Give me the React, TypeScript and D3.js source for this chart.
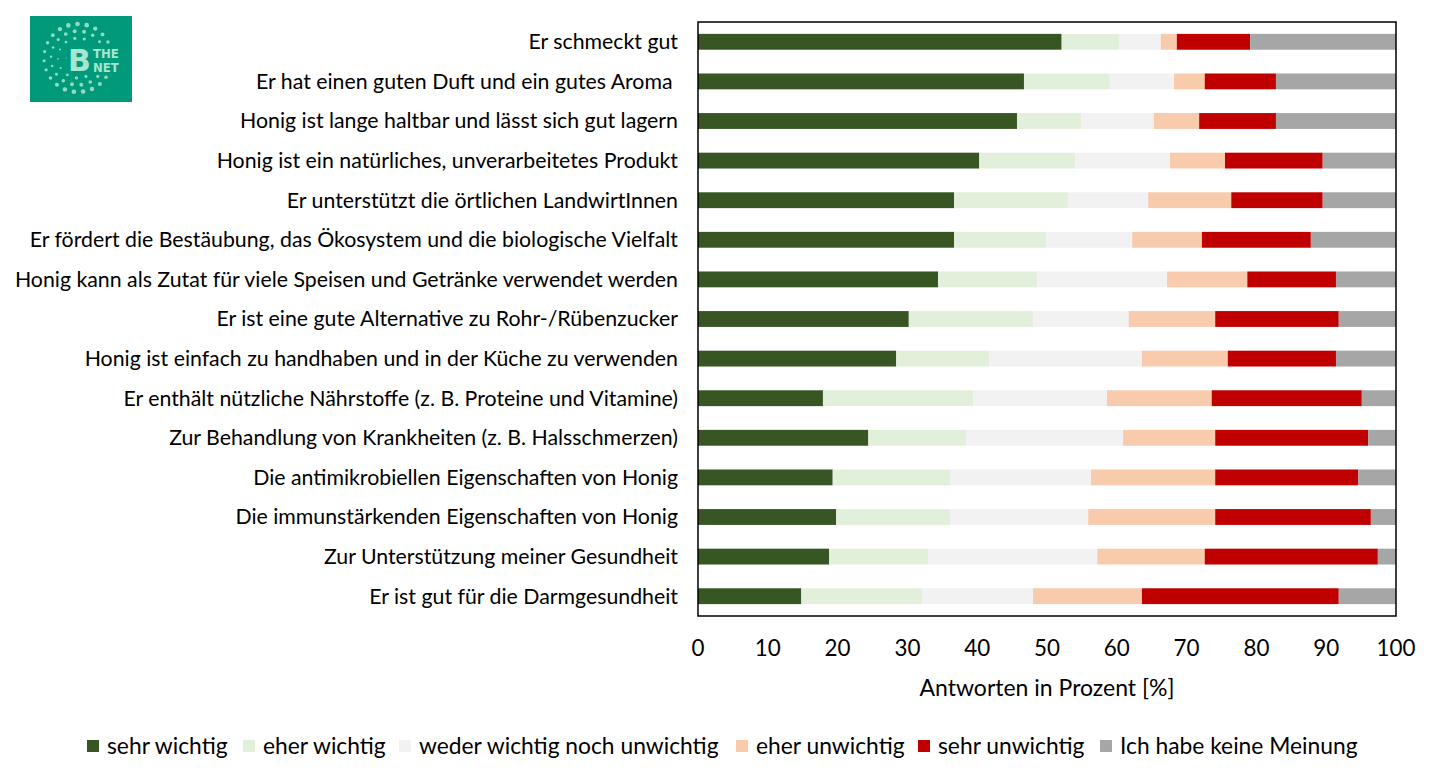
import React, { useEffect, useRef } from 'react';
import * as d3 from 'd3';

const categories = [
  'Er schmeckt gut',
  'Er hat einen guten Duft und ein gutes Aroma ',
  'Honig ist lange haltbar und lässt sich gut lagern',
  'Honig ist ein natürliches, unverarbeitetes Produkt',
  'Er unterstützt die örtlichen LandwirtInnen',
  'Er fördert die Bestäubung, das Ökosystem und die biologische Vielfalt',
  'Honig kann als Zutat für viele Speisen und Getränke verwendet werden',
  'Er ist eine gute Alternative zu Rohr-/Rübenzucker',
  'Honig ist einfach zu handhaben und in der Küche zu verwenden',
  'Er enthält nützliche Nährstoffe (z. B. Proteine und Vitamine)',
  'Zur Behandlung von Krankheiten (z. B. Halsschmerzen)',
  'Die antimikrobiellen Eigenschaften von Honig',
  'Die immunstärkenden Eigenschaften von Honig',
  'Zur Unterstützung meiner Gesundheit',
  'Er ist gut für die Darmgesundheit',
];

const seriesNames = [
  'sehr wichtig',
  'eher wichtig',
  'weder wichtig noch unwichtig',
  'eher unwichtig',
  'sehr unwichtig',
  'Ich habe keine Meinung',
];

const sehrWichtig = [52.1, 46.7, 45.7, 40.3, 36.7, 36.7, 34.4, 30.2, 28.4, 17.9, 24.4, 19.3, 19.8, 18.8, 14.8];
const eherWichtig = [8.2, 12.3, 9.2, 13.7, 16.3, 13.2, 14.2, 17.8, 13.3, 21.5, 14.0, 16.8, 16.3, 14.2, 17.3];
const weder = [6.0, 9.2, 10.4, 13.6, 11.5, 12.3, 18.6, 13.7, 21.9, 19.2, 22.5, 20.2, 19.8, 24.2, 15.9];
const eherUnwichtig = [2.3, 4.4, 6.5, 7.9, 11.9, 10.0, 11.5, 12.4, 12.3, 15.0, 13.2, 17.8, 18.2, 15.4, 15.6];
const sehrUnwichtig = [10.5, 10.2, 11.0, 14.0, 13.1, 15.6, 12.7, 17.7, 15.5, 21.5, 21.9, 20.5, 22.3, 24.8, 28.2];
const keineMeinung = [20.9, 17.2, 17.2, 10.5, 10.5, 12.2, 8.6, 8.2, 8.6, 4.9, 4.0, 5.4, 3.6, 2.6, 8.2];

const xTicks = [0, 10, 20, 30, 40, 50, 60, 70, 80, 90, 100];

const colors = ['#375623', '#e2efda', '#f2f2f2', '#f8cbad', '#c00000', '#a6a6a6'];

const FONT = 'Lato, "Open Sans", sans-serif';

export default function App() {
  const ref = useRef<SVGSVGElement>(null);

  useEffect(() => {
    const svg = d3.select(ref.current);
    svg.selectAll('*').remove();

    const left = 698, right = 1396, top = 22, bottom = 616;

    const table = categories.map((c, i) => ({
      cat: c,
      s0: sehrWichtig[i],
      s1: eherWichtig[i],
      s2: weder[i],
      s3: eherUnwichtig[i],
      s4: sehrUnwichtig[i],
      s5: keineMeinung[i],
    }));
    const keys = ['s0', 's1', 's2', 's3', 's4', 's5'];
    const stacked = d3.stack<any>().keys(keys)(table);

    const x = d3.scaleLinear().domain([0, 100]).range([left, right]);
    const y = d3
      .scaleBand()
      .domain(categories)
      .range([top, bottom])
      .paddingInner(0.6)
      .paddingOuter(0.3);

    // bars
    svg
      .append('g')
      .selectAll('g')
      .data(stacked)
      .enter()
      .append('g')
      .attr('fill', (_d, i) => colors[i])
      .selectAll('rect')
      .data((d) => d)
      .enter()
      .append('rect')
      .attr('x', (d) => x(d[0]))
      .attr('y', (d) => y(d.data.cat)!)
      .attr('width', (d) => x(d[1]) - x(d[0]))
      .attr('height', y.bandwidth());

    // frame
    svg
      .append('rect')
      .attr('x', left)
      .attr('y', top)
      .attr('width', right - left)
      .attr('height', bottom - top)
      .attr('fill', 'none')
      .attr('stroke', '#000')
      .attr('stroke-width', 1.5);

    // category labels
    svg
      .append('g')
      .selectAll('text')
      .data(categories)
      .enter()
      .append('text')
      .attr('x', left - 20)
      .attr('y', (d) => y(d)! + y.bandwidth() / 2)
      .attr('dy', '0.35em')
      .attr('text-anchor', 'end')
      .style('font-family', FONT)
      .style('font-size', '21.3px')
      .style('white-space', 'pre')
      .attr('fill', '#000')
      .text((d) => d);

    // x tick labels
    svg
      .append('g')
      .selectAll('text')
      .data(xTicks)
      .enter()
      .append('text')
      .attr('x', (d) => x(d))
      .attr('y', 648)
      .attr('dy', '0.35em')
      .attr('text-anchor', 'middle')
      .style('font-family', FONT)
      .style('font-size', '22.4px')
      .text((d) => String(d));

    svg
      .append('text')
      .attr('x', (left + right) / 2)
      .attr('y', 688)
      .attr('dy', '0.35em')
      .attr('text-anchor', 'middle')
      .style('font-family', FONT)
      .style('font-size', '23px')
      .text('Antworten in Prozent [%]');

    // legend
    const legendX = [87, 243, 399, 736, 918, 1100];
    const lg = svg.append('g');
    seriesNames.forEach((name, i) => {
      lg.append('rect')
        .attr('x', legendX[i])
        .attr('y', 740)
        .attr('width', 12)
        .attr('height', 12)
        .attr('fill', colors[i]);
      lg.append('text')
        .attr('x', legendX[i] + 20)
        .attr('y', 746)
        .attr('dy', '0.35em')
        .style('font-family', FONT)
        .style('font-size', '22.8px')
        .text(name);
    });

    // logo
    const logo = svg.append('g').attr('transform', 'translate(30,16)');
    logo.append('rect').attr('width', 102).attr('height', 86).attr('fill', '#009a7a');
    const cx = 48, cy = 42;
    const dots: { x: number; y: number; r: number }[] = [];
    [12, 20, 27, 34].forEach((rad, ri) => {
      const n = 8 + ri * 5;
      for (let k = 0; k < n; k++) {
        const a = (k / n) * Math.PI * 2 + ri * 0.2;
        const px = cx + Math.cos(a) * rad;
        const py = cy + Math.sin(a) * rad;
        if (px > 36 && Math.abs(py - cy) < 15) continue;
        const size = 0.5 + ri * 0.35 + Math.sin(a) * Math.sin(a) * 0.8;
        dots.push({ x: px, y: py, r: size });
      }
    });
    logo
      .selectAll('circle')
      .data(dots)
      .enter()
      .append('circle')
      .attr('cx', (d) => d.x)
      .attr('cy', (d) => d.y)
      .attr('r', (d) => d.r)
      .attr('fill', '#8fdcc4');
    logo
      .append('text')
      .attr('x', 38)
      .attr('y', 55)
      .style('font-family', '"DejaVu Sans", sans-serif')
      .style('font-weight', 'bold')
      .style('font-size', '30px')
      .attr('fill', '#a6e6d2')
      .text('B');
    logo
      .append('text')
      .attr('x', 63)
      .attr('y', 42)
      .style('font-family', '"DejaVu Sans Condensed", "DejaVu Sans", sans-serif')
      .style('font-weight', 'bold')
      .style('font-size', '13px')
      .attr('fill', '#a6e6d2')
      .text('THE');
    logo
      .append('text')
      .attr('x', 63)
      .attr('y', 56)
      .style('font-family', '"DejaVu Sans Condensed", "DejaVu Sans", sans-serif')
      .style('font-weight', 'bold')
      .style('font-size', '13px')
      .attr('fill', '#a6e6d2')
      .text('NET');
  }, []);

  return (
    <svg
      ref={ref}
      width={1439}
      height={781}
      style={{ position: 'absolute', left: 0, top: 0, background: '#fff' }}
    />
  );
}
